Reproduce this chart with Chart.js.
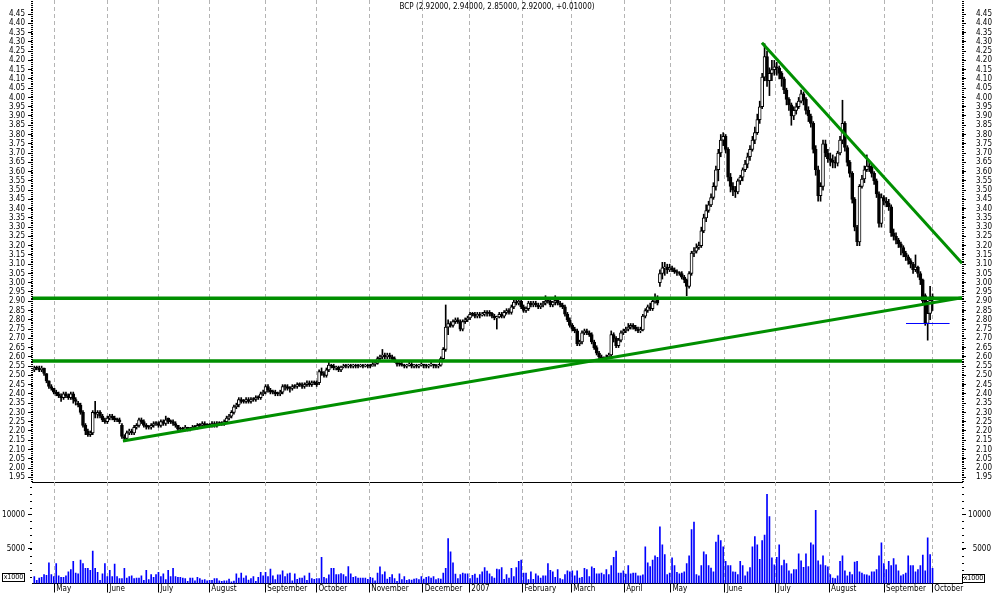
<!DOCTYPE html>
<html>
<head>
<meta charset="utf-8">
<script src="https://cdn.jsdelivr.net/npm/chart.js@4.4.0/dist/chart.umd.min.js"></script>
<style>
  html, body { margin: 0; padding: 0; background: #fff; }
  #wrap { position: relative; width: 994px; height: 595px; overflow: hidden; }
  canvas { position: absolute; left: 0; }
  #priceChart { top: 0; }
  #volChart { top: 482px; }
</style>
</head>
<body>
<div id="wrap">
  <canvas id="priceChart" width="994" height="486"></canvas>
  <canvas id="volChart" width="994" height="113"></canvas>
</div>
<script>
// month starts, in trading-day index units
var monthLabels = ["May", "June", "July", "August", "September", "October", "November", "December", "2007",
  "February", "March", "April", "May", "June", "July", "August", "September", "October"];
var monthPos = [8.2, 30, 50.9, 71.9, 94.9, 115.9, 137.6, 159.6, 178.7, 200.5, 220.6, 242.3, 261.3, 283.6, 304.6, 326.5, 349.1, 368.9];

var opens = [
  2.53,2.54,2.54,2.53,2.54,2.51,2.47,2.44,2.43,2.41, 2.40,2.39,2.38,2.40,2.39,2.38,2.40,2.37,2.35,2.34,
  2.30,2.23,2.20,2.18,2.19,2.30,2.29,2.30,2.28,2.26, 2.25,2.27,2.28,2.27,2.26,2.26,2.23,2.17,2.16,2.19,
  2.20,2.19,2.22,2.23,2.26,2.25,2.23,2.22,2.22,2.23, 2.24,2.24,2.23,2.25,2.24,2.27,2.25,2.25,2.24,2.23,
  2.21,2.21,2.21,2.22,2.21,2.21,2.22,2.22,2.23,2.23, 2.24,2.23,2.23,2.23,2.24,2.23,2.24,2.24,2.24,2.25,
  2.27,2.28,2.30,2.33,2.34,2.37,2.36,2.36,2.37,2.36, 2.37,2.37,2.38,2.38,2.40,2.41,2.44,2.42,2.41,2.41,
  2.40,2.40,2.41,2.44,2.44,2.43,2.43,2.44,2.44,2.45, 2.45,2.44,2.45,2.46,2.45,2.46,2.46,2.46,2.52,2.51,
  2.50,2.53,2.555,2.55,2.54,2.545,2.53,2.545,2.55,2.55, 2.555,2.55,2.555,2.55,2.55,2.555,2.55,2.555,2.55,2.55,
  2.56,2.565,2.59,2.60,2.61,2.60,2.61,2.60,2.59,2.58, 2.56,2.56,2.555,2.55,2.555,2.56,2.55,2.555,2.55,2.555,
  2.56,2.555,2.55,2.555,2.56,2.555,2.55,2.555,2.59,2.64, 2.76,2.78,2.77,2.79,2.80,2.79,2.75,2.79,2.80,2.81,
  2.83,2.83,2.82,2.83,2.825,2.83,2.84,2.835,2.835,2.82, 2.81,2.815,2.83,2.82,2.84,2.85,2.84,2.87,2.895,2.89,
  2.90,2.87,2.85,2.86,2.89,2.88,2.89,2.88,2.87,2.88, 2.89,2.90,2.90,2.88,2.895,2.905,2.89,2.88,2.87,2.83,
  2.80,2.77,2.75,2.74,2.67,2.68,2.73,2.74,2.73,2.72, 2.68,2.65,2.62,2.60,2.59,2.59,2.60,2.61,2.72,2.70,
  2.66,2.69,2.73,2.74,2.75,2.76,2.77,2.76,2.75,2.74, 2.745,2.82,2.85,2.87,2.86,2.90,2.92,3.00,3.05,3.08,
  3.085,3.07,3.08,3.07,3.06,3.055,3.05,3.03,3.015,2.98, 3.05,3.16,3.17,3.19,3.20,3.28,3.35,3.39,3.42,3.46,
  3.52,3.61,3.70,3.77,3.79,3.72,3.57,3.52,3.50,3.49, 3.55,3.57,3.61,3.64,3.68,3.72,3.77,3.81,3.88,3.95,
  4.11,4.22,4.09,4.13,4.15,4.165,4.16,4.13,4.10,4.04, 3.99,3.96,3.90,3.93,3.95,3.98,4.02,3.99,3.93,3.90,
  3.86,3.72,3.61,3.47,3.52,3.75,3.70,3.67,3.66,3.65, 3.645,3.70,3.77,3.86,3.73,3.65,3.59,3.45,3.30,3.22,
  3.52,3.56,3.61,3.63,3.625,3.59,3.55,3.48,3.32,3.46, 3.44,3.43,3.41,3.27,3.25,3.23,3.21,3.19,3.16,3.14,
  3.12,3.10,3.07,3.085,3.05,3.015,2.93,2.78,2.835,2.92
];
var highs = [
  2.55,2.55,2.55,2.55,2.54,2.51,2.47,2.45,2.43,2.42, 2.41,2.40,2.41,2.41,2.40,2.41,2.41,2.38,2.36,2.35,
  2.31,2.24,2.21,2.20,2.31,2.36,2.31,2.31,2.29,2.27, 2.28,2.29,2.29,2.28,2.27,2.27,2.24,2.18,2.20,2.21,
  2.21,2.23,2.24,2.27,2.27,2.26,2.24,2.23,2.24,2.25, 2.25,2.25,2.26,2.26,2.28,2.27,2.26,2.26,2.25,2.23,
  2.22,2.22,2.23,2.22,2.22,2.23,2.23,2.24,2.24,2.25, 2.25,2.24,2.24,2.25,2.25,2.25,2.25,2.25,2.26,2.28,
  2.29,2.31,2.34,2.35,2.38,2.38,2.37,2.38,2.38,2.38, 2.38,2.39,2.39,2.41,2.42,2.45,2.45,2.43,2.42,2.42,
  2.41,2.42,2.45,2.45,2.45,2.44,2.45,2.45,2.46,2.46, 2.46,2.46,2.47,2.47,2.47,2.47,2.47,2.53,2.54,2.52,
  2.54,2.57,2.56,2.56,2.55,2.55,2.55,2.56,2.56,2.56, 2.56,2.56,2.56,2.56,2.56,2.56,2.56,2.56,2.56,2.57,
  2.57,2.60,2.61,2.64,2.62,2.62,2.62,2.61,2.60,2.58, 2.57,2.57,2.56,2.56,2.57,2.57,2.56,2.56,2.56,2.57,
  2.56,2.56,2.56,2.57,2.56,2.56,2.56,2.60,2.65,2.88, 2.80,2.79,2.80,2.81,2.81,2.80,2.80,2.81,2.82,2.84,
  2.84,2.84,2.84,2.84,2.84,2.85,2.85,2.85,2.84,2.83, 2.82,2.84,2.84,2.85,2.86,2.86,2.88,2.91,2.91,2.92,
  2.91,2.88,2.87,2.90,2.90,2.90,2.90,2.89,2.89,2.90, 2.93,2.91,2.91,2.90,2.93,2.92,2.90,2.89,2.88,2.84,
  2.81,2.78,2.76,2.75,2.69,2.74,2.75,2.75,2.74,2.73, 2.69,2.66,2.63,2.61,2.60,2.61,2.62,2.74,2.73,2.71,
  2.70,2.74,2.75,2.76,2.78,2.78,2.78,2.77,2.76,2.76, 2.83,2.86,2.88,2.89,2.92,2.94,2.93,3.07,3.11,3.11,
  3.10,3.10,3.09,3.08,3.07,3.06,3.06,3.04,3.02,3.06, 3.17,3.19,3.21,3.22,3.30,3.37,3.42,3.44,3.48,3.54,
  3.63,3.72,3.80,3.81,3.80,3.73,3.59,3.54,3.52,3.56, 3.58,3.62,3.66,3.70,3.74,3.79,3.84,3.91,3.98,4.13,
  4.29,4.25,4.16,4.20,4.20,4.19,4.17,4.14,4.11,4.05, 4.00,3.97,3.95,3.97,4.00,4.04,4.03,4.00,3.95,3.91,
  3.87,3.74,3.63,3.54,3.77,3.77,3.72,3.70,3.69,3.68, 3.71,3.79,3.985,3.87,3.74,3.66,3.60,3.46,3.31,3.53,
  3.58,3.63,3.69,3.66,3.64,3.60,3.56,3.49,3.48,3.47, 3.46,3.45,3.42,3.29,3.27,3.24,3.22,3.20,3.17,3.15,
  3.13,3.11,3.15,3.09,3.06,3.02,2.94,2.90,2.98,2.94
];
var lows = [
  2.52,2.53,2.52,2.52,2.50,2.46,2.43,2.42,2.40,2.39, 2.38,2.36,2.37,2.38,2.37,2.37,2.35,2.34,2.33,2.29,
  2.22,2.18,2.17,2.17,2.18,2.27,2.27,2.27,2.25,2.24, 2.24,2.26,2.26,2.25,2.25,2.24,2.16,2.15,2.15,2.18,
  2.18,2.18,2.21,2.22,2.24,2.22,2.21,2.21,2.21,2.22, 2.23,2.22,2.22,2.23,2.23,2.24,2.24,2.23,2.22,2.20,
  2.20,2.20,2.20,2.20,2.20,2.21,2.21,2.21,2.22,2.22, 2.22,2.22,2.22,2.22,2.22,2.22,2.23,2.23,2.23,2.24,
  2.26,2.27,2.29,2.32,2.33,2.35,2.35,2.35,2.35,2.35, 2.36,2.36,2.37,2.37,2.39,2.40,2.41,2.40,2.40,2.39,
  2.39,2.39,2.40,2.42,2.42,2.41,2.42,2.43,2.43,2.44, 2.43,2.43,2.44,2.44,2.44,2.45,2.44,2.45,2.50,2.49,
  2.49,2.52,2.54,2.53,2.53,2.52,2.52,2.54,2.54,2.54, 2.54,2.54,2.54,2.54,2.545,2.54,2.545,2.54,2.54,2.55,
  2.55,2.56,2.58,2.59,2.59,2.59,2.59,2.58,2.57,2.55, 2.55,2.55,2.54,2.54,2.55,2.54,2.54,2.54,2.54,2.55,
  2.54,2.54,2.54,2.55,2.54,2.54,2.54,2.55,2.58,2.63, 2.72,2.76,2.76,2.78,2.78,2.74,2.74,2.78,2.79,2.80,
  2.82,2.81,2.81,2.81,2.82,2.82,2.82,2.82,2.81,2.80, 2.75,2.81,2.81,2.81,2.83,2.83,2.83,2.86,2.88,2.88,
  2.86,2.84,2.84,2.85,2.87,2.87,2.87,2.86,2.86,2.87, 2.88,2.89,2.87,2.87,2.88,2.88,2.87,2.86,2.82,2.79,
  2.76,2.74,2.73,2.66,2.66,2.67,2.72,2.72,2.71,2.67, 2.64,2.61,2.59,2.58,2.58,2.58,2.59,2.60,2.68,2.65,
  2.65,2.68,2.72,2.73,2.74,2.75,2.75,2.74,2.73,2.73, 2.74,2.81,2.84,2.85,2.85,2.89,2.88,2.98,3.02,3.04,
  3.05,3.06,3.06,3.05,3.04,3.04,3.02,3.00,2.93,2.97, 3.04,3.14,3.16,3.18,3.19,3.27,3.33,3.38,3.41,3.45,
  3.50,3.55,3.68,3.74,3.70,3.55,3.49,3.47,3.46,3.48, 3.53,3.55,3.60,3.62,3.66,3.71,3.75,3.80,3.86,3.94,
  4.09,4.06,4.01,4.09,4.12,4.12,4.10,4.06,4.02,3.96, 3.93,3.85,3.88,3.91,3.94,3.97,3.96,3.91,3.87,3.84,
  3.70,3.58,3.44,3.44,3.50,3.68,3.65,3.63,3.62,3.62, 3.63,3.69,3.75,3.71,3.63,3.57,3.43,3.28,3.20,3.20,
  3.51,3.54,3.60,3.60,3.57,3.53,3.46,3.30,3.30,3.42, 3.41,3.39,3.25,3.23,3.21,3.19,3.15,3.14,3.12,3.10,
  3.08,3.05,3.06,3.03,2.99,2.88,2.77,2.69,2.80,2.85
];
var closes = [
  2.54,2.54,2.53,2.54,2.51,2.47,2.44,2.43,2.41,2.40, 2.39,2.38,2.40,2.39,2.38,2.40,2.37,2.36,2.34,2.30,
  2.23,2.20,2.18,2.19,2.30,2.29,2.30,2.28,2.26,2.25, 2.27,2.28,2.27,2.26,2.26,2.25,2.17,2.16,2.19,2.20,
  2.19,2.22,2.23,2.26,2.25,2.23,2.22,2.22,2.23,2.24, 2.24,2.23,2.25,2.24,2.26,2.25,2.25,2.24,2.23,2.21,
  2.21,2.21,2.22,2.21,2.21,2.22,2.22,2.23,2.23,2.24, 2.23,2.23,2.23,2.24,2.23,2.24,2.24,2.24,2.25,2.27,
  2.28,2.30,2.33,2.34,2.37,2.36,2.36,2.37,2.36,2.37, 2.37,2.38,2.38,2.40,2.41,2.44,2.42,2.41,2.41,2.40,
  2.40,2.41,2.44,2.44,2.43,2.43,2.44,2.44,2.45,2.45, 2.44,2.45,2.46,2.45,2.46,2.46,2.45,2.52,2.51,2.50,
  2.53,2.555,2.55,2.54,2.545,2.53,2.545,2.55,2.55,2.555, 2.55,2.555,2.55,2.55,2.555,2.55,2.555,2.55,2.55,2.56,
  2.565,2.59,2.60,2.61,2.60,2.61,2.60,2.59,2.58,2.56, 2.56,2.555,2.55,2.555,2.56,2.55,2.555,2.55,2.555,2.56,
  2.555,2.55,2.555,2.56,2.555,2.55,2.555,2.59,2.64,2.76, 2.78,2.77,2.79,2.80,2.79,2.75,2.79,2.80,2.81,2.83,
  2.83,2.82,2.83,2.825,2.83,2.84,2.835,2.835,2.82,2.81, 2.815,2.83,2.82,2.84,2.85,2.84,2.87,2.895,2.89,2.90,
  2.87,2.85,2.86,2.89,2.88,2.89,2.88,2.87,2.88,2.89, 2.90,2.90,2.88,2.895,2.905,2.89,2.88,2.87,2.83,2.80,
  2.77,2.75,2.74,2.67,2.68,2.73,2.74,2.73,2.72,2.68, 2.65,2.62,2.60,2.59,2.59,2.60,2.61,2.72,2.70,2.66,
  2.69,2.73,2.74,2.75,2.76,2.77,2.76,2.75,2.74,2.745, 2.82,2.85,2.87,2.86,2.90,2.92,2.89,3.05,3.08,3.085,
  3.07,3.08,3.07,3.06,3.055,3.05,3.03,3.015,2.98,3.05, 3.16,3.17,3.19,3.20,3.28,3.35,3.39,3.42,3.46,3.52,
  3.61,3.70,3.77,3.79,3.72,3.57,3.52,3.50,3.49,3.55, 3.57,3.61,3.64,3.68,3.72,3.77,3.81,3.88,3.95,4.11,
  4.22,4.09,4.13,4.15,4.165,4.16,4.13,4.10,4.04,3.99, 3.96,3.90,3.93,3.95,3.98,4.02,3.99,3.93,3.90,3.86,
  3.72,3.61,3.47,3.52,3.75,3.70,3.67,3.66,3.65,3.645, 3.70,3.77,3.86,3.73,3.65,3.59,3.45,3.30,3.22,3.52,
  3.56,3.61,3.63,3.625,3.59,3.55,3.48,3.32,3.46,3.44, 3.43,3.41,3.27,3.25,3.23,3.21,3.19,3.16,3.14,3.12,
  3.10,3.07,3.085,3.05,3.015,2.90,2.78,2.835,2.905,2.92
];
var volumes = [
  1000,450,800,900,1300,1200,3000,1300,1000,2900, 1100,900,900,1100,1700,2000,3200,1500,1400,3400,
  2900,2200,2200,1900,4700,2200,1600,450,1400,2900, 1000,1900,1000,2800,1000,700,700,2200,800,1000,
  1100,700,800,800,1100,450,1900,550,1300,900, 1300,1600,1000,1400,550,1900,1000,2200,1000,900,
  900,800,700,300,800,800,400,900,700,500, 550,400,450,450,700,700,400,300,400,400,
  650,250,350,1400,800,1500,800,1100,500,700, 1000,300,900,1600,1100,1600,1000,2100,1100,550,
  1250,1250,1850,1000,1400,1500,400,1400,600,800, 800,1100,450,1500,700,600,700,700,3800,900,
  700,1250,2200,2200,1300,1300,1450,1300,1000,2450, 1400,900,1000,800,800,800,800,600,900,800,
  400,1500,2400,1300,1700,650,900,1300,700,300, 1400,550,1000,450,550,500,650,700,550,1000,
  650,900,1000,800,1000,550,700,650,1500,2200, 6500,4600,3000,1350,700,1300,1500,1400,1400,700,
  1200,1350,800,1300,1700,2300,1800,1400,1000,800, 2100,2000,
  2300,600,1300,800,2200,1000,2300,3200,3400,1500, 1500,550,1700,600,1400,1100,800,1100,1100,2900,
  1900,1700,900,2000,700,550,1300,1850,1700,1850, 1100,1850,800,900,2200,2000,1000,2400,2200,1400,
  1400,1500,1300,2000,1300,2600,3800,4700,1500,1500, 1850,1350,2600,1400,1500,1500,1100,1100,1250,5300,
  3000,2450,3400,4000,3800,8200,5600,4200,1300,1500, 3700,2600,1600,1400,1500,1700,2900,4000,7800,8900,
  1300,1100,2600,4600,4200,2600,2250,1700,6000,7000, 6200,5300,3200,2600,2600,1700,1650,1300,3200,2600,
  1100,1700,2300,5300,6800,5600,3500,6200,7000,12900, 9700,3700,2700,3800,5600,2600,3400,2900,1850,1400,
  2000,2000,4300,3300,2350,4300,2450,5900,5600,10600, 3300,2700,4000,2600,2400,1300,800,700,1100,3200,
  4000,1850,1100,1650,1300,3100,3200,1700,1500,1300, 1250,1100,1700,1700,2000,4000,5900,2900,2000,3200,
  2600,3600,2700,1850,1100,1300,1500,4000,2600,2600, 1700,2000,2600,4100,1850,6600,4200,2200
];

// drawn lines: [dayIndex, price] end points
var resistance = [[-1, 2.916], [382, 2.916]];
var support = [[-1, 2.577], [382, 2.577]];
var riseLine = [[36.4, 2.146], [381.1, 2.919]];
var fallLine = [[298.9, 4.295], [381.1, 3.105]];
var stopMark = [[358.1, 2.78], [376, 2.78]];

var title = "BCP (2.92000, 2.94000, 2.85000, 2.92000, +0.01000)";

var FONT = "'DejaVu Sans Condensed', 'Liberation Sans', sans-serif";
var GREEN = "#008f00";
var X_MIN = -0.95, X_MAX = 381.1;

var wickData = closes.map(function (c, i) { return { x: i, y: [lows[i], highs[i]] }; });
var bodyData = closes.map(function (c, i) { return { x: i, y: [opens[i], c] }; });
var bodyColors = closes.map(function (c, i) { return c > opens[i] ? "#ffffff" : "#000000"; });
var volData = volumes.map(function (v, i) { return { x: i, y: v }; });
function pts(a) { return a.map(function (p) { return { x: p[0], y: p[1] }; }); }

var priceTicks = [];
for (var k = 39; k <= 89; k++) priceTicks.push(k * 0.05);

function monthAxis(showLabels) {
  return {
    type: "linear", min: X_MIN, max: X_MAX, offset: false,
    afterBuildTicks: function (s) { s.ticks = monthPos.map(function (v) { return { value: v }; }); },
    grid: { offset: false, color: "#b4b4b4", lineWidth: 1, drawTicks: showLabels, tickLength: 9, tickColor: "#000", tickBorderDash: [] },
    border: { display: true, color: "#000", width: 1, dash: [4, 3] },
    ticks: {
      display: showLabels, autoSkip: false, maxRotation: 0, minRotation: 0, align: "start",
      labelOffset: 2, padding: -8, color: "#000", font: { family: FONT, size: 8 },
      callback: function (v, i) { return monthLabels[i]; }
    },
    afterFit: function (s) { s.height = showLabels ? 11.5 : 0; s.paddingLeft = 0; s.paddingRight = 0; }
  };
}

function sideAxis(pos, min, max, tickVals, fmt, width, pad, align) {
  return {
    type: "linear", position: pos, min: min, max: max,
    afterBuildTicks: function (s) { s.ticks = tickVals.map(function (v) { return { value: v }; }); },
    grid: { drawOnChartArea: false, drawTicks: true, tickLength: 4, tickColor: "#000" },
    border: { display: false },
    ticks: { autoSkip: false, padding: pad, crossAlign: align, color: "#000", font: { family: FONT, size: 8 }, callback: fmt },
    afterFit: function (s) { s.width = width; s.paddingTop = 0; s.paddingBottom = 0; }
  };
}

var priceFmt = function (v) { return Number(v).toFixed(2); };

var priceExtras = {
  id: "priceExtras",
  afterDraw: function (chart) {
    var ctx = chart.ctx, a = chart.chartArea, ys = chart.scales.y;
    ctx.save();
    ctx.fillStyle = "#000";
    for (var k = 193; k <= 452; k++) {
      var y = Math.round(ys.getPixelForValue(k / 100));
      ctx.fillRect(a.left - 1, y, 2, 1);
      ctx.fillRect(a.right, y, 2, 1);
    }
    ctx.font = "8px " + FONT;
    ctx.textAlign = "center";
    ctx.textBaseline = "middle";
    ctx.fillText(title, 497, 7);
    ctx.restore();
  }
};

var volExtras = {
  id: "volExtras",
  afterDraw: function (chart) {
    var ctx = chart.ctx, a = chart.chartArea, ys = chart.scales.y;
    ctx.save();
    ctx.fillStyle = "#000";
    for (var k = 1; k <= 14; k++) {
      var y = Math.round(ys.getPixelForValue(k * 1000));
      ctx.fillRect(a.left - 2, y, 2, 1);
      ctx.fillRect(a.right, y, 2, 1);
    }
    ctx.font = "7px " + FONT;
    ctx.textBaseline = "middle";
    ctx.textAlign = "center";
    ctx.strokeStyle = "#000";
    ctx.lineWidth = 1;
    [[2.5, 92], [962.5, 93]].forEach(function (p) {
      ctx.strokeRect(p[0], p[1] - 0.5, 22, 8);
      ctx.fillText("x1000", p[0] + 11, p[1] + 3.5);
    });
    ctx.restore();
  }
};

new Chart(document.getElementById("priceChart"), {
  type: "bar",
  plugins: [priceExtras],
  data: {
    datasets: [
      { type: "line", data: pts(resistance), borderColor: GREEN, borderWidth: 3.5, pointRadius: 0, order: 0 },
      { type: "line", data: pts(support), borderColor: GREEN, borderWidth: 3.5, pointRadius: 0, order: 0 },
      { type: "line", data: pts(riseLine), borderColor: GREEN, borderWidth: 3, pointRadius: 0, order: 0 },
      { type: "line", data: pts(fallLine), borderColor: GREEN, borderWidth: 3, pointRadius: 0, order: 0 },
      { type: "line", data: pts(stopMark), borderColor: "#0000ff", borderWidth: 1, pointRadius: 0, order: 0 },
      { data: bodyData, backgroundColor: bodyColors, borderColor: "#000", borderWidth: 1, borderSkipped: false,
        barThickness: 3, minBarLength: 1, grouped: false, order: 1 },
      { data: wickData, backgroundColor: "#000", barThickness: 1, grouped: false, order: 2 }
    ]
  },
  options: {
    responsive: false, animation: false, devicePixelRatio: 1,
    layout: { padding: { top: 0, bottom: 4, left: 0, right: 0 } },
    plugins: { legend: { display: false }, tooltip: { enabled: false } },
    scales: {
      x: monthAxis(false),
      y: sideAxis("left", 1.9245, 4.526, priceTicks, priceFmt, 32, 3, "near"),
      y2: sideAxis("right", 1.9245, 4.526, priceTicks, priceFmt, 32, 10, "near")
    }
  }
});

new Chart(document.getElementById("volChart"), {
  type: "bar",
  plugins: [volExtras],
  data: {
    datasets: [
      { data: volData, backgroundColor: "#0000ff", barThickness: 1, grouped: false }
    ]
  },
  options: {
    responsive: false, animation: false, devicePixelRatio: 1,
    layout: { padding: { top: 0, bottom: 0, left: 0, right: 3 } },
    plugins: { legend: { display: false }, tooltip: { enabled: false } },
    scales: {
      x: monthAxis(true),
      y: sideAxis("left", 0, 14700, [5000, 10000], function (v) { return String(v); }, 32, 3, "near"),
      y2: sideAxis("right", 0, 14700, [5000, 10000], function (v) { return String(v); }, 29, 3, "far")
    }
  }
});
</script>
</body>
</html>
